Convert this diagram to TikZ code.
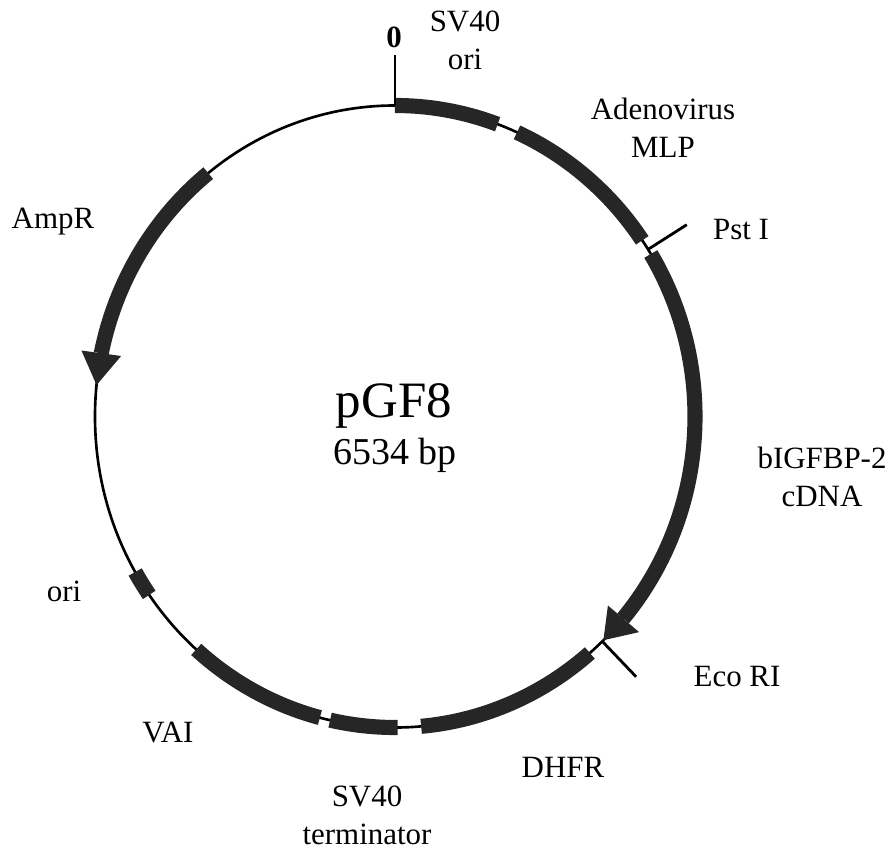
\documentclass[tikz,border=0pt]{standalone}
\usepackage{fontspec}
\setmainfont{Liberation Serif}
\begin{document}
\begin{tikzpicture}[x=0.01cm,y=0.01cm,
    band/.style={line width=4.3pt, draw=black!85},
    head/.style={fill=black!85},
    lbl/.style={font=\fontsize{8.8}{10.8}\selectfont, align=center}]
    \useasboundingbox (-395,-432.5) rectangle (494,416.5);

    % 绘制质粒主环
    \coordinate (O) at (0,0);
    \draw[line width=0.75pt] (O) ellipse [x radius=300, y radius=311];

    % 绘制各片段
    \draw[band] (90:300 and 311) arc[start angle=90, end angle=70, x radius=300, y radius=311];
    \draw[band] (66:300 and 311) arc[start angle=66, end angle=34.5, x radius=300, y radius=311];
    \draw[band] (31.5:300 and 311) arc[start angle=31.5, end angle=-40.5, x radius=300, y radius=311];
    \draw[band] (-49.5:300 and 311) arc[start angle=-49.5, end angle=-85, x radius=300, y radius=311];
    \draw[band] (-89.5:300 and 311) arc[start angle=-89.5, end angle=-102.5, x radius=300, y radius=311];
    \draw[band] (-104.5:300 and 311) arc[start angle=-104.5, end angle=-131.5, x radius=300, y radius=311];
    \draw[band] (-150:300 and 311) arc[start angle=-150, end angle=-145, x radius=300, y radius=311];
    \draw[band] (128.5:300 and 311) arc[start angle=128.5, end angle=168.3, x radius=300, y radius=311];

    % 绘制箭头
    \coordinate (B1) at (-40.5:321 and 332);
    \coordinate (B2) at (-40.5:280 and 291);
    \coordinate (T1) at (-46:300 and 311);
    \fill[head] (B1) -- (T1) -- (B2) -- cycle;
    \coordinate (A1) at (168.5:320 and 331);
    \coordinate (A2) at (168:280 and 291);
    \coordinate (T2) at (174.2:300 and 311);
    \fill[head] (A1) -- (T2) -- (A2) -- cycle;

    % 绘制酶切位点
    \coordinate (Z0) at (90:300 and 311);
    \coordinate (Z1) at (90:350 and 361);
    \draw[line width=0.8pt] (Z0) -- (Z1);
    \coordinate (P0) at (32.5:300 and 311);
    \coordinate (P1) at (32.5:346 and 357);
    \draw[line width=0.8pt] (P0) -- (P1);
    \coordinate (E0) at (-46.3:300 and 311);
    \coordinate (E1) at (-46.3:349 and 360);
    \draw[line width=0.8pt] (E0) -- (E1);

    % 标注
    \node[lbl, font=\fontsize{8.8}{10.8}\selectfont\bfseries] (zero) at (-1,379.5) {0};
    \node[lbl] (sv40ori) at (70,376.5) {SV40\\ori};
    \node[lbl] (mlp) at (268,288.5) {Adenovirus\\MLP};
    \node[lbl] (pst) at (346,186.5) {Pst I};
    \node[lbl] (igfbp) at (427,-60.5) {bIGFBP-2\\cDNA};
    \node[lbl] (eco) at (342,-260.5) {Eco RI};
    \node[lbl] (dhfr) at (168,-350.5) {DHFR};
    \node[lbl] (sv40t) at (-28,-398.5) {SV40\\terminator};
    \node[lbl] (vai) at (-227,-316.5) {VAI};
    \node[lbl] (ori) at (-331,-174.5) {ori};
    \node[lbl] (ampr) at (-342,194.5) {AmpR};

    % 质粒名称
    \node[font=\fontsize{14.5}{16}\selectfont] (name) at (-1,10.5) {pGF8};
    \node[font=\fontsize{10.8}{12}\selectfont] (size) at (0,-38.5) {6534 bp};
\end{tikzpicture}
\end{document}
